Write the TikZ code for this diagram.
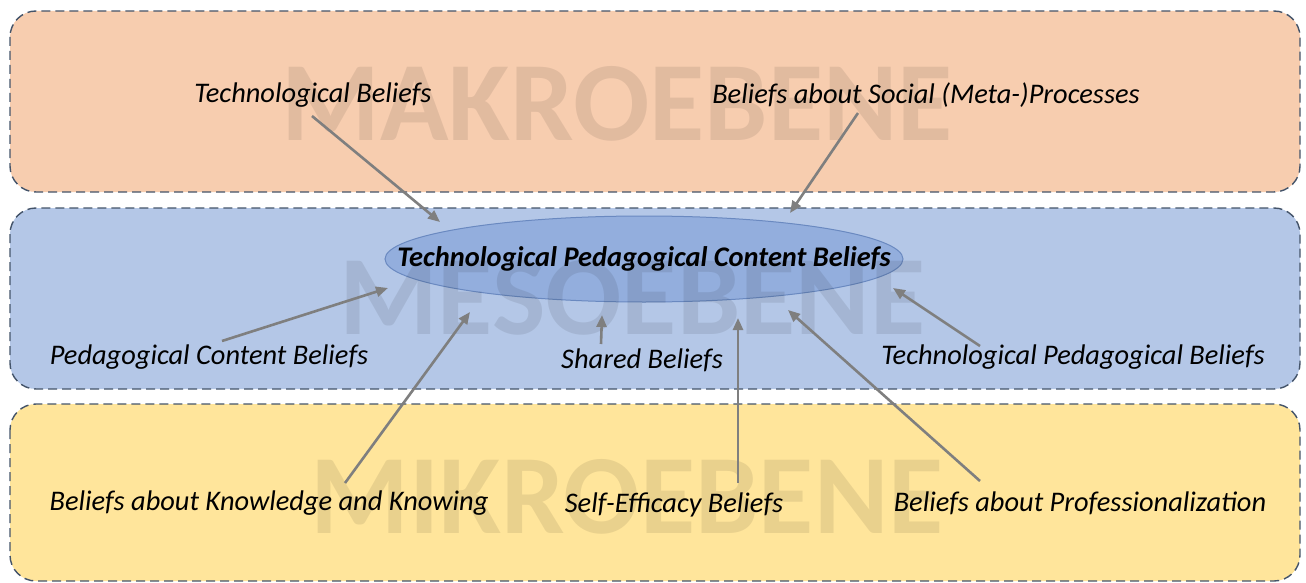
\documentclass[tikz,border=0pt]{standalone}
\usepackage{fontspec}
\setmainfont{Carlito}
\usetikzlibrary{arrows.meta,shapes.geometric}
\definecolor{bandedge}{HTML}{44546A}
\definecolor{makro}{HTML}{F7CDAF}
\definecolor{meso}{HTML}{B4C7E7}
\definecolor{mikro}{HTML}{FFE59B}
\definecolor{ellfill}{HTML}{93AEDD}
\definecolor{elledge}{HTML}{6A89C0}
\definecolor{arrowgray}{HTML}{7F7F7F}
\tikzset{
  band/.style={draw=bandedge, line width=1.4pt, dash pattern=on 9pt off 5pt, rounded corners=26pt},
  wm/.style={font=\fontsize{113}{113}\selectfont\bfseries, text=black, text opacity=0.085, inner sep=0pt},
  lbl/.style={font=\fontsize{28.4}{32}\selectfont\itshape, inner sep=0pt, text=black},
  conn/.style={draw=arrowgray, line width=2.6pt, -{Triangle[length=12pt,width=10pt]}},
}
\begin{document}
\begin{tikzpicture}[x=1pt,y=-1pt]
\useasboundingbox (0,0) rectangle (1306,583);
% bands
\path[band, fill=makro] (10,11) rectangle (1300,192);
\path[band, fill=meso] (10,208) rectangle (1300,389);
\path[band, fill=mikro] (10,404) rectangle (1300,581);
% central ellipse
\node[ellipse, draw=elledge, line width=1pt, fill=ellfill, minimum width=518pt, minimum height=86pt, inner sep=0pt] (tpck) at (644,259) {};
\node[font=\fontsize{28.4}{32}\selectfont\bfseries\itshape, inner sep=0pt] (tpcktext) at (644,259) {Technological Pedagogical Content Beliefs};
% watermarks
\node[wm] (wmakro) at (617,104) {MAKROEBENE};
\node[wm] (wmeso) at (632,298) {MESOEBENE};
\node[wm] (wmikro) at (627,497) {MIKROEBENE};
% labels
\node[lbl] (tb) at (313,95) {Technological Beliefs};
\node[lbl] (bsp) at (926,95) {Beliefs about Social (Meta-)Processes};
\node[lbl] (pcb) at (209,357) {Pedagogical Content Beliefs};
\node[lbl] (sb) at (642,360) {Shared Beliefs};
\node[lbl] (tpb) at (1073,357) {Technological Pedagogical Beliefs};
\node[lbl] (bkk) at (269,503) {Beliefs about Knowledge and Knowing};
\node[lbl] (seb) at (674,505) {Self-Efficacy Beliefs};
\node[lbl] (bp) at (1080,503) {Beliefs about Professionalization};
% connector endpoints
\coordinate (s1) at (312,116); \coordinate (e1) at (440,222);
\coordinate (s2) at (858,113); \coordinate (e2) at (790,213);
\coordinate (s3) at (222,341); \coordinate (e3) at (388,288);
\coordinate (s4) at (601,344); \coordinate (e4) at (602,315);
\coordinate (s5) at (345,483); \coordinate (e5) at (470,312);
\coordinate (s6) at (738,483); \coordinate (e6) at (738,318);
\coordinate (s7) at (980,481); \coordinate (e7) at (788,310);
\coordinate (s8) at (980,346); \coordinate (e8) at (893,288);
\draw[conn] (s1) -- (e1);
\draw[conn] (s2) -- (e2);
\draw[conn] (s3) -- (e3);
\draw[conn] (s4) -- (e4);
\draw[conn] (s5) -- (e5);
\draw[conn] (s6) -- (e6);
\draw[conn] (s7) -- (e7);
\draw[conn] (s8) -- (e8);
\end{tikzpicture}
\end{document}
